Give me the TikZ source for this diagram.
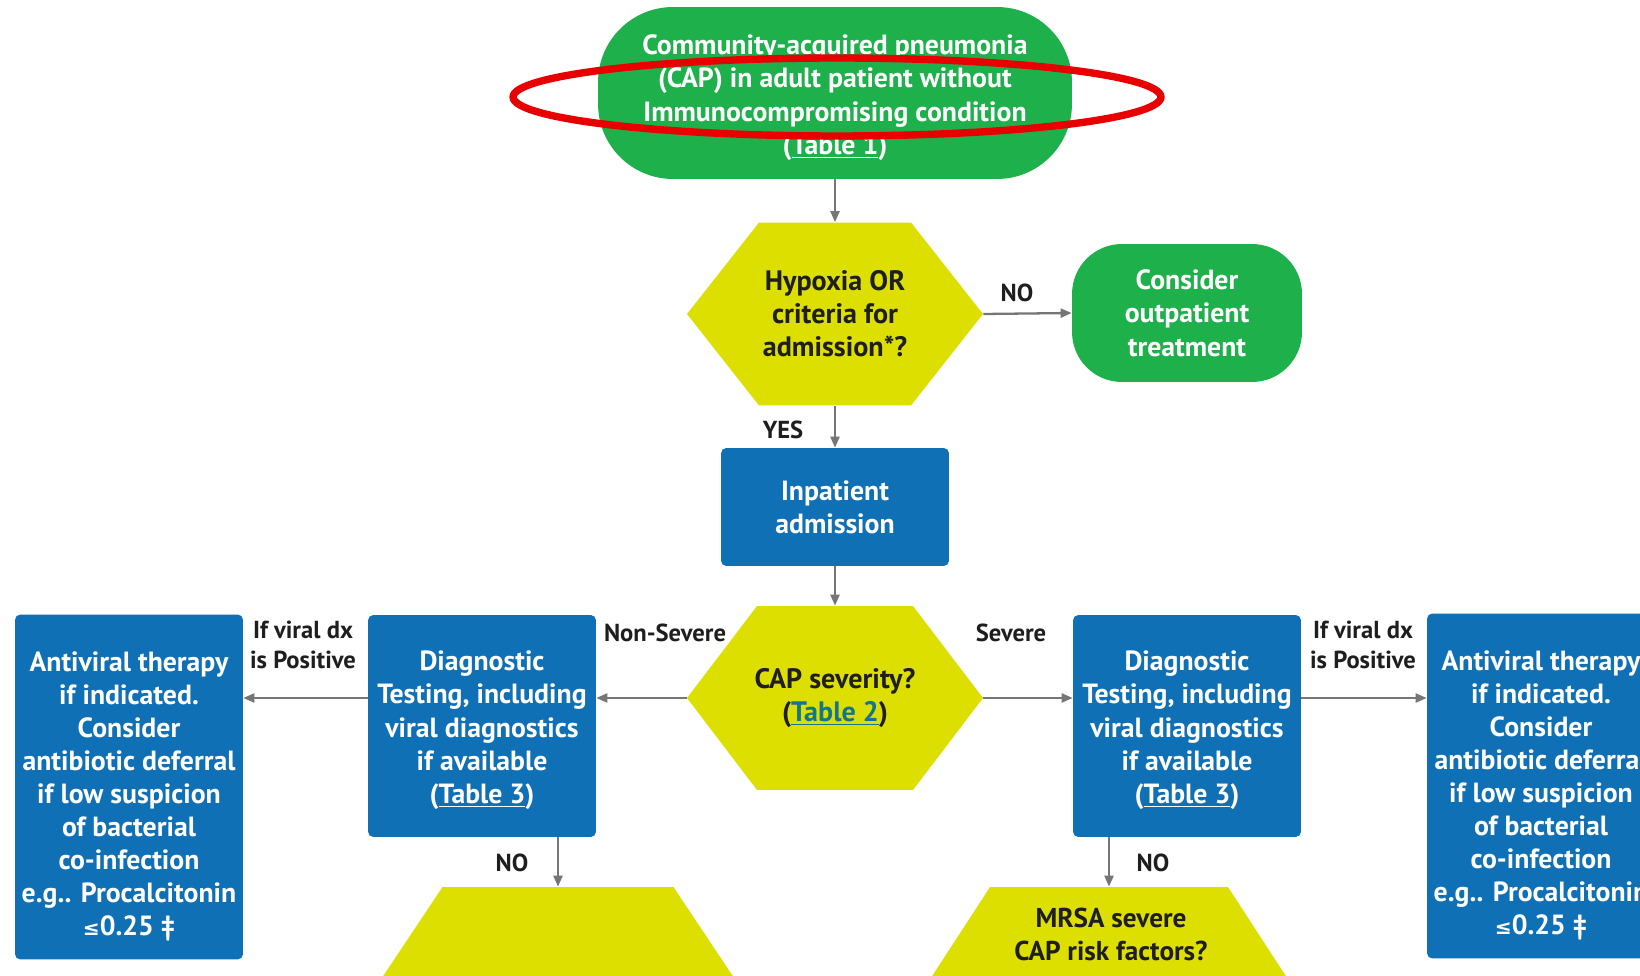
\documentclass[tikz,border=0pt]{standalone}
\usepackage{fontspec}
\setmainfont{PT Sans}
\newfontfamily\symfont{DejaVu Sans}
\usepackage{tikz}
\usetikzlibrary{arrows.meta, positioning, shapes.geometric}
\definecolor{capgreen}{RGB}{30,176,75}
\definecolor{qyellow}{RGB}{221,223,0}
\definecolor{capblue}{RGB}{16,112,182}
\definecolor{arrowgray}{RGB}{118,118,118}
\definecolor{linkteal}{RGB}{20,118,140}
\definecolor{inktext}{RGB}{30,30,30}
\definecolor{markred}{RGB}{232,0,0}
\newcommand{\toppad}[1]{\rule{0pt}{#1}}
\tikzset{
  hexinset/.store in=\hexinset, hexinset=1.4cm,
  terminal/.style={rectangle, fill=capgreen, text=white, align=center, inner sep=2pt,
    font=\bfseries\fontsize{15.8}{19}\selectfont},
  bluebox/.style={rectangle, fill=capblue, text=white, rounded corners=3pt, align=center,
    inner sep=2pt, minimum width=4.56cm, font=\bfseries\fontsize{15.8}{18.8}\selectfont},
  hexq/.style={rectangle, text=inktext, align=center, inner sep=0pt,
    font=\bfseries\fontsize{16}{18.8}\selectfont,
    path picture={\fill[qyellow] (path picture bounding box.west)
      -- ([xshift=\hexinset]path picture bounding box.north west)
      -- ([xshift=-\hexinset]path picture bounding box.north east)
      -- (path picture bounding box.east)
      -- ([xshift=-\hexinset]path picture bounding box.south east)
      -- ([xshift=\hexinset]path picture bounding box.south west) -- cycle;}},
  tag/.style={text=inktext, align=center, inner sep=1pt, font=\bfseries\fontsize{14}{17.5}\selectfont},
  line/.style={draw=arrowgray, line width=1.3pt, -{Triangle[length=2.2mm, width=1.8mm]}}
}

\begin{document}
\begin{tikzpicture}[x=0.02cm, y=-0.02cm]
    \useasboundingbox (0,0) rectangle (1640,976);
    \fill[white] (0,0) rectangle (1640,976);
    \clip (0,0) rectangle (1640,976);

    \node[terminal, rounded corners=1.5cm, minimum width=9.48cm, minimum height=3.44cm] (cap) at (835,93)
      {\toppad{16.5pt}Community-acquired pneumonia\\(CAP) in adult patient without\\Immunocompromising condition\\(\underline{Table 1})};
    \node[draw=markred, line width=4.2pt, ellipse, minimum width=12.96cm, minimum height=1.56cm] (ring) at (837,97) {};

    \node[hexq, hexinset=1.44cm, minimum width=5.92cm, minimum height=3.66cm] (hypo) at (835,314)
      {Hypoxia OR\\criteria for\\admission*?};
    \node[terminal, rounded corners=1cm, minimum width=4.6cm, minimum height=2.76cm] (outpat) at (1187,313)
      {Consider\\outpatient\\treatment};
    \node[bluebox, minimum height=2.36cm] (inpat) at (835,507) {Inpatient\\admission};
    \node[hexq, hexinset=1.4cm, minimum width=5.92cm, minimum height=3.68cm] (sev) at (835,698)
      {CAP severity?\\(\textcolor{linkteal}{\underline{Table 2}})};

    \node[bluebox, minimum height=4.44cm] (diagL) at (482,726)
      {\toppad{16pt}Diagnostic\\Testing, including\\viral diagnostics\\if available\\(\underline{Table 3})};
    \node[bluebox, minimum height=4.44cm] (diagR) at (1187,726)
      {\toppad{16pt}Diagnostic\\Testing, including\\viral diagnostics\\if available\\(\underline{Table 3})};
    \node[bluebox, minimum height=6.9cm] (antiL) at (129,787)
      {\toppad{22pt}Antiviral therapy\\if indicated.\\Consider\\antibiotic deferral\\if low suspicion\\of bacterial\\co-infection\\e.g.. Procalcitonin\\{\symfont\fontsize{11.5}{18}\selectfont≤}0.25 ‡};
    \node[bluebox, minimum height=6.9cm] (antiR) at (1541,786)
      {\toppad{22pt}Antiviral therapy\\if indicated.\\Consider\\antibiotic deferral\\if low suspicion\\of bacterial\\co-infection\\e.g.. Procalcitonin\\{\symfont\fontsize{11.5}{18}\selectfont≤}0.25 ‡};

    \node[hexq, hexinset=1.6cm, minimum width=7.82cm, minimum height=4.8cm] (nextL) at (558,1007) {};
    \node[hexq, hexinset=1.56cm, minimum width=7.88cm, minimum height=4.8cm] (mrsahex) at (1109,1007) {};
    \node[tag, font=\bfseries\fontsize{15.5}{18.8}\selectfont] (mrsa) at (1111,934) {MRSA severe\\CAP risk factors?};

    % labels on the arrows
    \node[tag] (noout) at (1017,293) {NO};
    \node[tag] (yes) at (783,430) {YES};
    \node[tag] (nonsev) at (665,633) {Non-Severe};
    \node[tag] (sevtag) at (1011,633) {Severe};
    \node[tag] (virL) at (303,645) {If viral dx\\is Positive};
    \node[tag] (virR) at (1363,645) {If viral dx\\is Positive};
    \node[tag] (noL) at (512,863) {NO};
    \node[tag] (noR) at (1153,863) {NO};

    \draw[line] (cap) -- (hypo);
    \draw[line] (hypo.east) -- (outpat.west);
    \draw[line] (hypo.south) -- (inpat.north);
    \draw[line] (inpat) -- (sev.north);
    \draw[line] (sev.west) -- (diagL.east |- sev.west);
    \draw[line] (sev.east) -- (diagR.west |- sev.east);
    \draw[line] (diagL.west |- sev.west) -- (antiL.east |- sev.west);
    \draw[line] (diagR.east |- sev.east) -- (antiR.west |- sev.east);
    \draw[line] (diagL.south -| nextL.north) -- (nextL.north);
    \draw[line] (diagR.south -| mrsahex.north) -- (mrsahex.north);
  \end{tikzpicture}
\end{document}
